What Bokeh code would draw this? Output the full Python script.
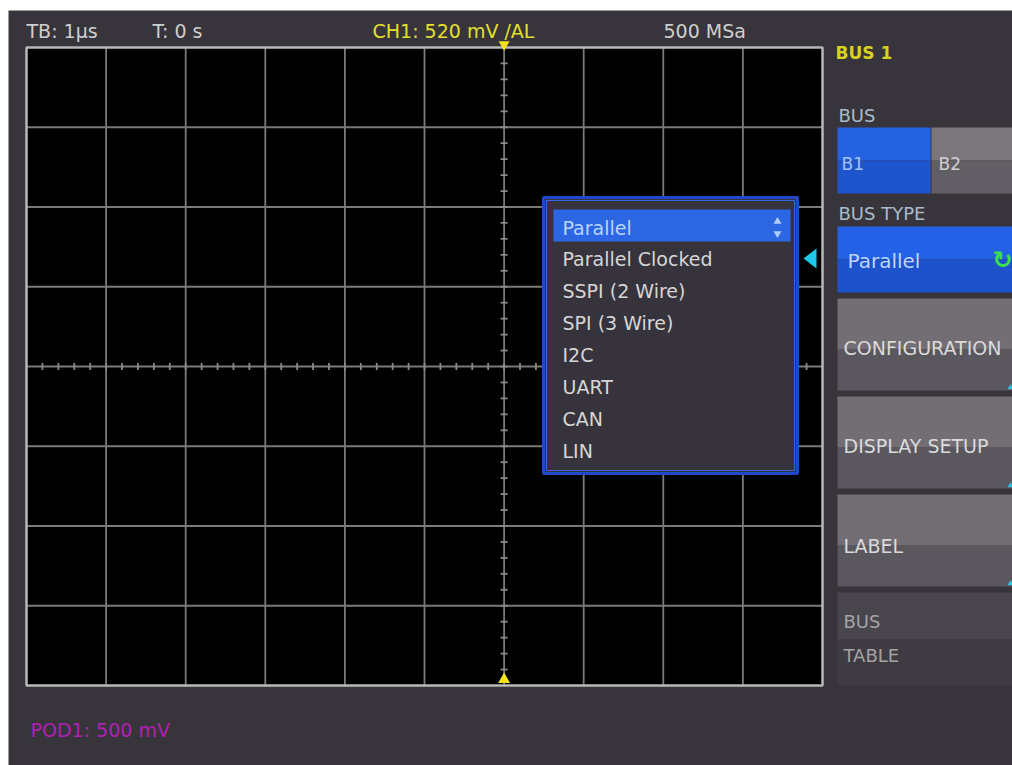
import numpy as np
from bokeh.plotting import figure
from bokeh.models import Range1d
from bokeh.core.properties import value
from bokeh.embed import file_html
from bokeh.resources import INLINE

# ---------------- data ----------------
status_labels = ["TB: 1µs", "T: 0 s", "500 MSa"]
trigger_label = "CH1: 520 mV /AL"
probe_label = "POD1: 500 mV"
bus_title = "BUS 1"
bus_choices = ["B1", "B2"]
bus_types = ["Parallel", "Parallel Clocked", "SSPI (2 Wire)", "SPI (3 Wire)",
             "I2C", "UART", "CAN", "LIN"]
selected_type = "Parallel"
menu_buttons = ["CONFIGURATION", "DISPLAY SETUP", "LABEL"]
menu_disabled = ["BUS", "TABLE"]
n_div_x = 12          # full graticule width (partly hidden by the menu)
n_div_visible = 10
n_div_y = 8
minor_per_div = 5

# ---------------- layout ----------------
W, H = 1012, 765
FONT = "DejaVu Sans"
BG = "#38343b"

p = figure(width=W, height=H, x_range=Range1d(0, W), y_range=Range1d(H, 0),
           output_backend="svg", toolbar_location=None, min_border=0)
p.axis.visible = False
p.grid.visible = False
p.outline_line_color = None
p.background_fill_color = "white"
p.border_fill_color = "white"

def txt(x, y, s, color, size, align="left", style="normal"):
    p.text(x=[x], y=[y], text=[s], text_color=color, text_font=value(FONT),
           text_font_size=f"{size}px", text_align=align, text_baseline="middle",
           text_font_style=style)

# screen background
p.quad(left=[8], right=[W], top=[10], bottom=[H], fill_color=BG, line_color=None)

# graticule
gl, gt = 26, 47
dx, dy = 79.6, 79.75
gr = gl + n_div_visible * dx
gb = gt + n_div_y * dy
p.quad(left=[gl], right=[gr], top=[gt], bottom=[gb], fill_color="black", line_color=None)
xs = [gl + dx * i for i in range(1, n_div_visible)]
ys = [gt + dy * j for j in range(1, n_div_y)]
p.segment(x0=xs, y0=[gt] * len(xs), x1=xs, y1=[gb] * len(xs), line_color="#7a7a7a", line_width=1.8)
p.segment(x0=[gl] * len(ys), y0=ys, x1=[gr] * len(ys), y1=ys, line_color="#7a7a7a", line_width=1.8)
cx = gl + dx * n_div_x / 2
cy = gt + dy * n_div_y / 2
mx = [gl + dx * k / minor_per_div for k in range(1, n_div_visible * minor_per_div)]
my = [gt + dy * k / minor_per_div for k in range(1, n_div_y * minor_per_div)]
p.segment(x0=mx, y0=[cy - 3.5] * len(mx), x1=mx, y1=[cy + 3.5] * len(mx), line_color="#8a8a8a", line_width=1.8)
p.segment(x0=[cx - 3.5] * len(my), y0=my, x1=[cx + 3.5] * len(my), y1=my, line_color="#8a8a8a", line_width=1.8)
p.quad(left=[gl], right=[gr], top=[gt], bottom=[gb], fill_color=None, line_color="#b8b8b8", line_width=2.5)

# trigger markers
p.scatter(x=[cx], y=[gt - 3], marker="inverted_triangle", size=11, fill_color="#f2e41c", line_color=None)
p.scatter(x=[cx], y=[gb - 6], marker="triangle", size=12, fill_color="#f2e41c", line_color=None)

# top status line
status_x = [26, 152, 663]
for s, x in zip(status_labels, status_x):
    txt(x, 30, s, "#cfcfcf", 19)
txt(372, 30, trigger_label, "#e2e02a", 19)
txt(30, 729, probe_label, "#b21fb4", 19)

# dropdown
dl, dr, dt, db = 543, 797, 197, 473
p.quad(left=[dl], right=[dr], top=[dt], bottom=[db], fill_color="#37333c",
       line_color="#2148c8", line_width=3)
p.quad(left=[dl + 3], right=[dr - 3], top=[dt + 3], bottom=[db - 3], fill_color=None,
       line_color="#3a64e0", line_width=1)
item_h = 31.9
first_y = 227
sel = bus_types.index(selected_type)
p.quad(left=[dl + 10], right=[dr - 7], top=[first_y + sel * item_h - 18],
       bottom=[first_y + sel * item_h + 14], fill_color="#2d66e3", line_color=None)
for i, s in enumerate(bus_types):
    txt(dl + 19, first_y + i * item_h, s, "#b9d3ff" if i == sel else "#d6d6d6", 19)
p.scatter(x=[dr - 20], y=[first_y - 6], marker="triangle", size=8, fill_color="#b0cdff", line_color=None)
p.scatter(x=[dr - 20], y=[first_y + 6], marker="inverted_triangle", size=8, fill_color="#b0cdff", line_color=None)
# pointer
p.patch(x=[803, 816, 816], y=[258, 248, 268], fill_color="#1ec8e8", line_color=None)

# right menu
ml, mr = 837, W
def button(l, r, t, b, top_col, bot_col, split=0.55):
    m = t + (b - t) * split
    p.quad(left=[l], right=[r], top=[t], bottom=[m], fill_color=top_col, line_color=None)
    p.quad(left=[l], right=[r], top=[m], bottom=[b], fill_color=bot_col, line_color=None)

txt(835, 52, bus_title, "#d8d21e", 17, style="bold")
txt(838, 115, "BUS", "#a8bccb", 18)
button(ml, 930, 127, 193, "#2562e2", "#1f55cc", 0.5)
button(931, mr, 127, 193, "#7a767c", "#625e65", 0.5)
txt(841, 163, bus_choices[0], "#a2c2ff", 17)
txt(938, 163, bus_choices[1], "#d0d0d0", 17)
txt(838, 213, "BUS TYPE", "#a8bccb", 18)
button(ml, mr, 226, 292, "#2362e6", "#1d52cc", 0.5)
txt(847, 260, selected_type, "#bcd4ff", 20)
txt(1012, 259, "↻", "#3ee04a", 24, align="right", style="bold")

btn_top = 298
btn_h = 92
btn_gap = 6
for i, s in enumerate(menu_buttons):
    t = btn_top + i * (btn_h + btn_gap)
    button(ml, mr, t, t + btn_h, "#726e74", "#5b575e", 0.55)
    p.scatter(x=[mr - 2], y=[t + btn_h - 3], marker="triangle", size=6, fill_color="#30c0e0", line_color=None)
    ty = t + btn_h / 2 + (5 if s == "LABEL" else 3)
    txt(843, ty, s, "#dadada", 19)
t = btn_top + 3 * (btn_h + btn_gap)
button(ml, mr, t, gb, "#49454d", "#3f3b43", 0.5)
txt(843, 621, menu_disabled[0], "#a4a4a4", 18)
txt(843, 655, menu_disabled[1], "#a4a4a4", 18)

open("out.html", "w").write(file_html(p, INLINE))
